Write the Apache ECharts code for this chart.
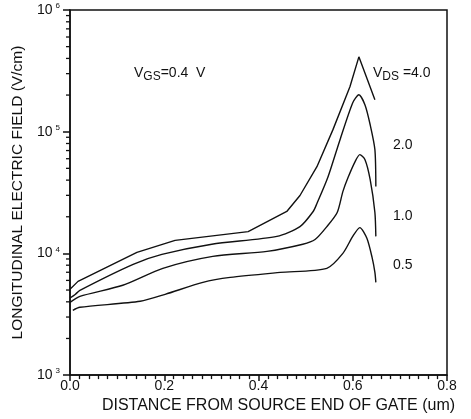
<!DOCTYPE html>
<html><head><meta charset="utf-8">
<script src="https://cdn.jsdelivr.net/npm/echarts@6/dist/echarts.min.js"></script>
<style>html,body{margin:0;padding:0;background:#fff}#c{width:471px;height:419px}</style>
</head><body><div id="c"></div>
<script>
// Distance from source end of gate (um) and longitudinal field (V/cm)
const x_vds40 = [0.000, 0.017, 0.142, 0.223, 0.378, 0.460, 0.488, 0.524, 0.558, 0.594, 0.613, 0.647];
const y_vds40 = [5.07e3, 5.89e3, 1.02e4, 1.28e4, 1.51e4, 2.21e4, 2.99e4, 5.16e4, 1.04e5, 2.34e5, 4.12e5, 1.83e5];

const x_vds20 = [0.000, 0.011, 0.021, 0.134, 0.195, 0.301, 0.439, 0.488, 0.516, 0.524, 0.547, 0.573, 0.600, 0.613, 0.626, 0.637, 0.647, 0.649];
const y_vds20 = [4.3e3, 4.6e3, 4.97e3, 8.13e3, 9.81e3, 1.19e4, 1.38e4, 1.66e4, 2.21e4, 2.57e4, 4.20e4, 8.60e4, 1.73e5, 2.01e5, 1.66e5, 1.14e5, 7.12e4, 3.54e4];

const x_vds10 = [0.000, 0.021, 0.112, 0.197, 0.303, 0.418, 0.494, 0.520, 0.545, 0.567, 0.579, 0.590, 0.605, 0.615, 0.626, 0.637, 0.647, 0.649];
const y_vds10 = [3.96e3, 4.44e3, 5.47e3, 7.54e3, 9.45e3, 1.04e4, 1.19e4, 1.30e4, 1.66e4, 2.17e4, 3.22e4, 4.20e4, 5.68e4, 6.48e4, 5.89e4, 4.04e4, 2.17e4, 1.38e4];

const x_vds05 = [0.006, 0.021, 0.149, 0.202, 0.282, 0.340, 0.446, 0.545, 0.579, 0.600, 0.615, 0.630, 0.641, 0.647, 0.649];
const y_vds05 = [3.41e3, 3.61e3, 4.04e3, 4.61e3, 5.78e3, 6.35e3, 6.98e3, 7.54e3, 1.0e4, 1.38e4, 1.63e4, 1.33e4, 9.27e3, 6.98e3, 5.78e3];

const xTicks = [0.0, 0.2, 0.4, 0.6, 0.8];
const yDecades = [3, 4, 5, 6];
const curveLabels = ['4.0', '2.0', '1.0', '0.5'];

const FONT = 'Liberation Sans, DejaVu Sans, sans-serif';
const INK = '#111';

function pairs(xs, ys) { return xs.map((x, i) => [x, ys[i]]); }

const chart = echarts.init(document.getElementById('c'), null, {renderer: 'canvas'});

function lineSeries(name, xs, ys, smooth) {
  return {
    name: name, type: 'line', data: pairs(xs, ys), smooth: smooth,
    symbol: 'none', lineStyle: {color: INK, width: 1.4}, silent: true, z: 5
  };
}

const option = {
  animation: false,
  grid: {left: 70, right: 24, top: 10, bottom: 43, show: true, borderColor: INK, borderWidth: 1.5, backgroundColor: 'transparent'},
  xAxis: {
    type: 'value', min: 0, max: 0.8, interval: 0.2,
    name: 'DISTANCE FROM SOURCE END OF GATE (um)', nameLocation: 'middle', nameGap: 21,
    nameTextStyle: {fontFamily: FONT, fontSize: 16, color: INK, padding: [0, 0, 0, 40]},
    axisLine: {show: true, lineStyle: {color: INK, width: 1.5}},
    axisTick: {show: true, inside: false, length: 6, lineStyle: {color: INK, width: 1.5}},
    minorTick: {show: true, splitNumber: 10, length: 4, lineStyle: {color: INK, width: 1.3}},
    axisLabel: {fontFamily: FONT, fontSize: 14, color: INK, margin: 4,
      formatter: v => xTicks.some(t => Math.abs(t - v) < 1e-9) ? v.toFixed(1) : ''},
    splitLine: {show: false}
  },
  yAxis: {
    type: 'log', logBase: 10, min: Math.pow(10, yDecades[0]), max: Math.pow(10, yDecades[yDecades.length - 1]),
    name: 'LONGITUDINAL ELECTRIC FIELD (V/cm)', nameLocation: 'middle', nameGap: 42,
    nameTextStyle: {fontFamily: FONT, fontSize: 15.5, color: INK},
    axisLine: {show: true, lineStyle: {color: INK, width: 1.5}},
    axisTick: {show: true, inside: false, length: 7, lineStyle: {color: INK, width: 1.5}},
    axisLabel: {
      margin: 10, color: INK,
      formatter: v => '{b|10}{s|' + Math.round(Math.log10(v)) + '}',
      rich: {
        b: {fontFamily: FONT, fontSize: 14, color: INK},
        s: {fontFamily: FONT, fontSize: 8, color: INK, verticalAlign: 'bottom', padding: [0, 0, 8, 3]}
      }
    },
    splitLine: {show: false}
  },
  series: [
    lineSeries('4.0', x_vds40, y_vds40, false),
    lineSeries('2.0', x_vds20, y_vds20, 0.25),
    lineSeries('1.0', x_vds10, y_vds10, 0.25),
    lineSeries('0.5', x_vds05, y_vds05, 0.25)
  ]
};
chart.setOption(option);

// log minor ticks (2..9 per decade) placed through the axis scale
function addMarks() {
  const els = [];
  for (let d = yDecades[0]; d < yDecades[yDecades.length - 1]; d++) {
    for (let m = 2; m <= 9; m++) {
      const p = chart.convertToPixel({gridIndex: 0}, [0, m * Math.pow(10, d)]);
      els.push({type: 'line', silent: true, z: 10, shape: {x1: p[0] - 4, y1: p[1], x2: p[0], y2: p[1]},
        style: {stroke: INK, lineWidth: 1.3}});
    }
  }
  const richV = {
    n: {fontFamily: FONT, fontSize: 14, color: INK},
    sub: {fontFamily: FONT, fontSize: 12, color: INK, padding: [7, 0, 0, 0]}
  };
  const txt = (x, y, text, rich) => ({type: 'text', silent: true, x: x, y: y, z: 10,
    style: {text: text, rich: rich, fill: INK, font: '14px ' + FONT, verticalAlign: 'middle'}});
  els.push(txt(134, 73, '{n|V}{sub|GS}{n|=0.4  V}', richV));
  els.push(txt(373, 73, '{n|V}{sub|DS}{n| =4.0}', richV));
  els.push(txt(393, 145, curveLabels[1]));
  els.push(txt(393, 216, curveLabels[2]));
  els.push(txt(393, 265, curveLabels[3]));
  chart.setOption({graphic: {elements: els}});
}
addMarks();
</script>
</body></html>
